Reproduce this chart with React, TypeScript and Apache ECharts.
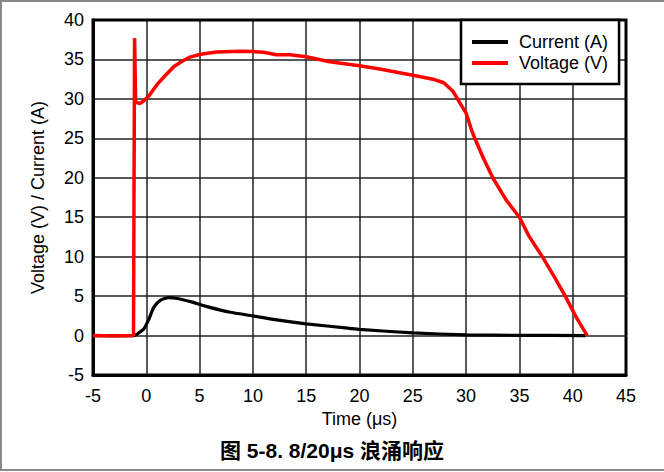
import React, { useEffect, useRef } from "react";
import * as echarts from "echarts";

const xTicks = { min: -5, max: 45, interval: 5 };
const yTicks = { min: -5, max: 40, interval: 5 };

const voltageTime = [
  -5, -3, -1.2, -1.14, -1.1, -1.0, -0.8, -0.6, -0.3, 0.2, 1.0, 1.8, 2.6, 3.4, 4.1, 5.1, 6.6,
  8.8, 10.0, 11.0, 12.2, 13.5, 15.0, 17.2, 20.0, 21.9, 25.0, 26.9, 27.9, 28.75, 29.5, 30.0,
  30.6, 31.55, 32.5, 33.75, 35.0, 35.9, 37.15, 38.25, 39.3, 40.3, 41.36,
];
const voltageValues = [
  0, -0.05, 0, 0, 37.7, 29.6, 29.5, 29.4, 29.7, 30.3, 31.8, 33.0, 34.1, 34.8, 35.3, 35.65, 35.95,
  36.05, 36.0, 35.9, 35.6, 35.6, 35.35, 34.7, 34.2, 33.8, 33.0, 32.5, 32.05, 31.0, 29.3, 28.2,
  25.7, 22.7, 20.0, 17.2, 15.0, 12.6, 10.0, 7.5, 5.0, 2.4, 0.0,
];

const currentTime = [
  -5, -1.16, -0.85, -0.22, 0.25, 0.71, 1.34, 2.1, 2.9, 4.14, 5.7, 7.88, 10, 12.24, 15, 18.9, 20,
  25, 30, 35, 41.2,
];
const currentValues = [
  0, 0, 0.2, 0.85, 2.1, 3.6, 4.5, 4.8, 4.7, 4.3, 3.67, 2.95, 2.5, 1.98, 1.48, 0.95, 0.78, 0.34,
  0.08, 0.03, 0,
];

const seriesNames = ["Current (A)", "Voltage (V)"];
const seriesColors = ["#000000", "#ff0000"];
const xName = "Time (μs)";
const yName = "Voltage (V) / Current (A)";
const caption = "图 5-8. 8/20μs 浪涌响应";

const FONT = '"Liberation Sans", Arial, "Noto Sans CJK SC", sans-serif';

export default function App() {
  const ref = useRef<HTMLDivElement>(null);
  useEffect(() => {
    document.body.style.margin = "0";
    if (!ref.current) return;
    const chart = echarts.init(ref.current, undefined, { renderer: "svg" });
    const pair = (xs: number[], ys: number[]) => xs.map((x, i) => [x, ys[i]]);
    chart.setOption({
      animation: false,
      backgroundColor: "#ffffff",
      grid: {
        left: 93,
        right: 38,
        top: 20,
        bottom: 97,
        show: true,
        borderColor: "#000",
        borderWidth: 3,
        z: 3,
      },
      title: {
        text: caption,
        left: "center",
        top: 435,
        textStyle: { fontSize: 21, fontWeight: "bold", color: "#000", fontFamily: FONT },
      },
      legend: {
        orient: "vertical",
        left: 461,
        top: 20,
        padding: [13, 11, 12, 11],
        borderColor: "#000",
        borderWidth: 2.5,
        backgroundColor: "#fff",
        itemWidth: 36,
        itemHeight: 4,
        itemGap: 3,
        icon: "rect",
        z: 10,
        data: seriesNames.map((n, i) => ({ name: n, itemStyle: { color: seriesColors[i] } })),
        textStyle: { fontSize: 18, color: "#000", fontFamily: FONT, padding: [0, 0, 0, 6] },
      },
      xAxis: {
        type: "value",
        ...xTicks,
        name: xName,
        nameLocation: "middle",
        nameGap: 33,
        nameTextStyle: { fontSize: 18, color: "#000", fontFamily: FONT },
        axisLine: { show: true, onZero: false, lineStyle: { color: "#000", width: 3 } },
        axisTick: { show: false },
        axisLabel: { fontSize: 18, color: "#000", fontFamily: FONT, margin: 12 },
        splitLine: { show: true, lineStyle: { color: "#222", width: 1.5 } },
      },
      yAxis: {
        type: "value",
        ...yTicks,
        name: yName,
        nameLocation: "middle",
        nameGap: 46,
        nameTextStyle: { fontSize: 18, color: "#000", fontFamily: FONT },
        axisLine: { show: true, onZero: false, lineStyle: { color: "#000", width: 3 } },
        axisTick: { show: false },
        axisLabel: { fontSize: 18, color: "#000", fontFamily: FONT, margin: 9 },
        splitLine: { show: true, lineStyle: { color: "#222", width: 1.5 } },
      },
      graphic: [
        {
          type: "polyline",
          shape: { points: [[664, 1], [1, 1], [1, 470], [664, 470]] },
          style: { stroke: "#888", lineWidth: 2, fill: null },
          silent: true,
        },
      ],
      series: [
        {
          name: seriesNames[0],
          type: "line",
          data: pair(currentTime, currentValues),
          showSymbol: false,
          smooth: 0.2,
          lineStyle: { color: seriesColors[0], width: 3.2 },
          itemStyle: { color: seriesColors[0] },
        },
        {
          name: seriesNames[1],
          type: "line",
          data: pair(voltageTime, voltageValues),
          showSymbol: false,
          lineStyle: { color: seriesColors[1], width: 3.5 },
          itemStyle: { color: seriesColors[1] },
        },
      ],
    });
    return () => chart.dispose();
  }, []);
  return <div ref={ref} style={{ width: 664, height: 472 }} />;
}
